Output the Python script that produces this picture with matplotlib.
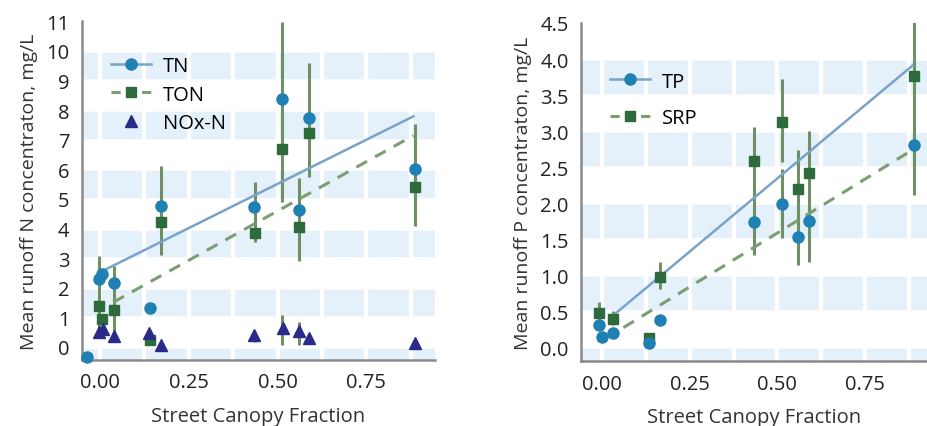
import matplotlib
matplotlib.use("Agg")
import matplotlib.pyplot as plt
from matplotlib.lines import Line2D

plt.rcParams['font.family'] = ['Open Sans', 'DejaVu Sans']

# ---- N panel data ----
tn_x = [-0.037, -0.003, 0.004, 0.040, 0.140, 0.171, 0.435, 0.514, 0.560, 0.590, 0.887]
tn_y = [-0.33, 2.30, 2.47, 2.16, 1.31, 4.75, 4.74, 8.38, 4.63, 7.73, 6.00]

ton_x = [-0.003, 0.004, 0.040, 0.140, 0.171, 0.437, 0.514, 0.560, 0.590, 0.887]
ton_y = [1.37, 0.95, 1.26, 0.24, 4.23, 3.85, 6.67, 4.05, 7.21, 5.39]

nox_x = [-0.003, 0.008, 0.040, 0.137, 0.172, 0.435, 0.515, 0.560, 0.590, 0.887]
nox_y = [0.50, 0.60, 0.37, 0.47, 0.07, 0.40, 0.63, 0.54, 0.29, 0.14]

# error bars (x, low, high)
n_bar_x = [-0.003, 0.040, 0.171, 0.437, 0.514, 0.560, 0.590, 0.887, 0.437, 0.514, 0.560]
n_bar_lo = [0.60, 0.37, 3.10, 3.56, 4.89, 2.92, 5.73, 4.10, 0.17, 0.07, 0.07]
n_bar_hi = [3.06, 2.75, 6.12, 5.58, 10.97, 5.71, 9.59, 7.53, 0.40, 1.08, 0.85]

# fitted lines (end points)
tn_fit_x = [0.009, 0.883]
tn_fit_y = [2.58, 7.79]
ton_fit_x = [0.037, 0.883]
ton_fit_y = [1.51, 7.14]

# ---- P panel data ----
tp_x = [-0.010, -0.001, 0.032, 0.134, 0.165, 0.433, 0.512, 0.558, 0.590, 0.890]
tp_y = [0.31, 0.14, 0.19, 0.06, 0.375, 1.73, 1.99, 1.53, 1.75, 2.81]

srp_x = [-0.009, 0.030, 0.134, 0.165, 0.433, 0.512, 0.558, 0.590, 0.890]
srp_y = [0.47, 0.39, 0.125, 0.97, 2.59, 3.12, 2.20, 2.41, 3.76]

p_bar_x = [-0.009, 0.030, 0.165, 0.433, 0.512, 0.512, 0.558, 0.590, 0.890]
p_bar_lo = [0.35, 0.30, 0.81, 1.28, 2.57, 1.51, 1.14, 1.18, 2.11]
p_bar_hi = [0.62, 0.50, 1.18, 3.06, 3.72, 2.47, 2.73, 3.00, 4.55]

tp_fit_x = [0.032, 0.886]
tp_fit_y = [0.44, 3.91]
srp_fit_x = [0.061, 0.883]
srp_fit_y = [0.27, 2.73]

n_yticks = list(range(0, 12))
p_yticks = [0.0, 0.5, 1.0, 1.5, 2.0, 2.5, 3.0, 3.5, 4.0, 4.5]
xticks = [0.0, 0.25, 0.5, 0.75]
xgrid = [0.0, 0.125, 0.25, 0.375, 0.5, 0.625, 0.75, 0.875]

c_pt = '#1f80b4'
c_fit = '#7aa3c9'
c_sq = '#2e6b3c'
c_dash = '#7b9e73'
c_err = '#6f8f64'
c_tri = '#2a2a8a'
c_band = '#e4f0fa'
c_spine = '#8a8a8a'


def style_axes(ax, yticks, step, xlim, ylim, fmt):
  # bands between alternate major ticks
  lo = yticks[0] - step
  while lo < ylim[1]:
    ax.axhspan(lo, lo + step, color=c_band, lw=0, zorder=0)
    lo += 2 * step
  for yv in yticks:
    ax.axhline(yv, color='white', lw=1.8, zorder=0.5)
  for xv in xgrid:
    ax.axvline(xv, color='white', lw=3, zorder=0.5)
  ax.set_xlim(*xlim)
  ax.set_ylim(*ylim)
  ax.set_xticks(xticks)
  ax.set_xticklabels(['%.2f' % v for v in xticks])
  ax.set_yticks(yticks)
  ax.set_yticklabels([fmt % v for v in yticks])
  ax.tick_params(length=0, labelsize=14.5, colors='#222222', pad=9)
  for s in ['top', 'right']:
    ax.spines[s].set_visible(False)
  for s in ['left', 'bottom']:
    ax.spines[s].set_color(c_spine)
    ax.spines[s].set_linewidth(1.8)
  ax.set_xlabel('Street Canopy Fraction', fontsize=14.5, color='#333333', labelpad=10)


fig = plt.figure(figsize=(9.27, 4.27), dpi=100)

# ---- left: N ----
ax1 = fig.add_axes([0.0885, 0.1546, 0.3808, 0.7939])
style_axes(ax1, n_yticks, 1, (-0.051, 0.944), (-0.44, 11.01), '%d')
ax1.vlines(n_bar_x, n_bar_lo, n_bar_hi, color=c_err, lw=2.2, zorder=2)
ax1.plot(tn_fit_x, tn_fit_y, color=c_fit, lw=1.8, zorder=3)
ax1.plot(ton_fit_x, ton_fit_y, color=c_dash, lw=2.2, ls=(0, (4, 3)), zorder=3)
ax1.plot(ton_x, ton_y, 's', color=c_sq, ms=7.5, zorder=4)
ax1.plot(nox_x, nox_y, '^', color=c_tri, ms=9, zorder=4)
ax1.plot(tn_x, tn_y, 'o', color=c_pt, ms=8, zorder=5, clip_on=False)
ax1.set_ylabel('Mean runoff N concentraton, mg/L', fontsize=14, color='#333333', labelpad=6)
h1 = [Line2D([], [], color=c_fit, lw=1.8, marker='o', mfc=c_pt, mec=c_pt, ms=8),
      Line2D([], [], color=c_dash, lw=2.2, ls=(0, (3, 2)), marker='s', mfc=c_sq, mec=c_sq, ms=7.5),
      Line2D([], [], color='none', marker='^', mfc=c_tri, mec=c_tri, ms=9)]
ax1.legend(h1, ['TN', 'TON', 'NOx-N'], loc='upper left', bbox_to_anchor=(0.03, 0.95),
           frameon=False, fontsize=14.5, handlelength=2.0, labelspacing=0.42, handletextpad=0.6)

# ---- right: P ----
ax2 = fig.add_axes([0.6268, 0.1522, 0.3732, 0.7916])
style_axes(ax2, p_yticks, 0.5, (-0.06, 0.927), (-0.194, 4.5), '%.1f')
ax2.vlines(p_bar_x, p_bar_lo, p_bar_hi, color=c_err, lw=2.2, zorder=2)
ax2.plot(tp_fit_x, tp_fit_y, color=c_fit, lw=1.8, zorder=3)
ax2.plot(srp_fit_x, srp_fit_y, color=c_dash, lw=2.2, ls=(0, (4, 3)), zorder=3)
ax2.plot(srp_x, srp_y, 's', color=c_sq, ms=7.5, zorder=4)
ax2.plot(tp_x, tp_y, 'o', color=c_pt, ms=8, zorder=5)
ax2.set_ylabel('Mean runoff P concentraton, mg/L', fontsize=14, color='#333333', labelpad=6)
h2 = [Line2D([], [], color=c_fit, lw=1.8, marker='o', mfc=c_pt, mec=c_pt, ms=8),
      Line2D([], [], color=c_dash, lw=2.2, ls=(0, (3, 2)), marker='s', mfc=c_sq, mec=c_sq, ms=7.5)]
ax2.legend(h2, ['TP', 'SRP'], loc='upper left', bbox_to_anchor=(0.03, 0.91),
           frameon=False, fontsize=14.5, handlelength=2.0, labelspacing=0.8, handletextpad=0.6)

fig.savefig('out.png', dpi=100)
